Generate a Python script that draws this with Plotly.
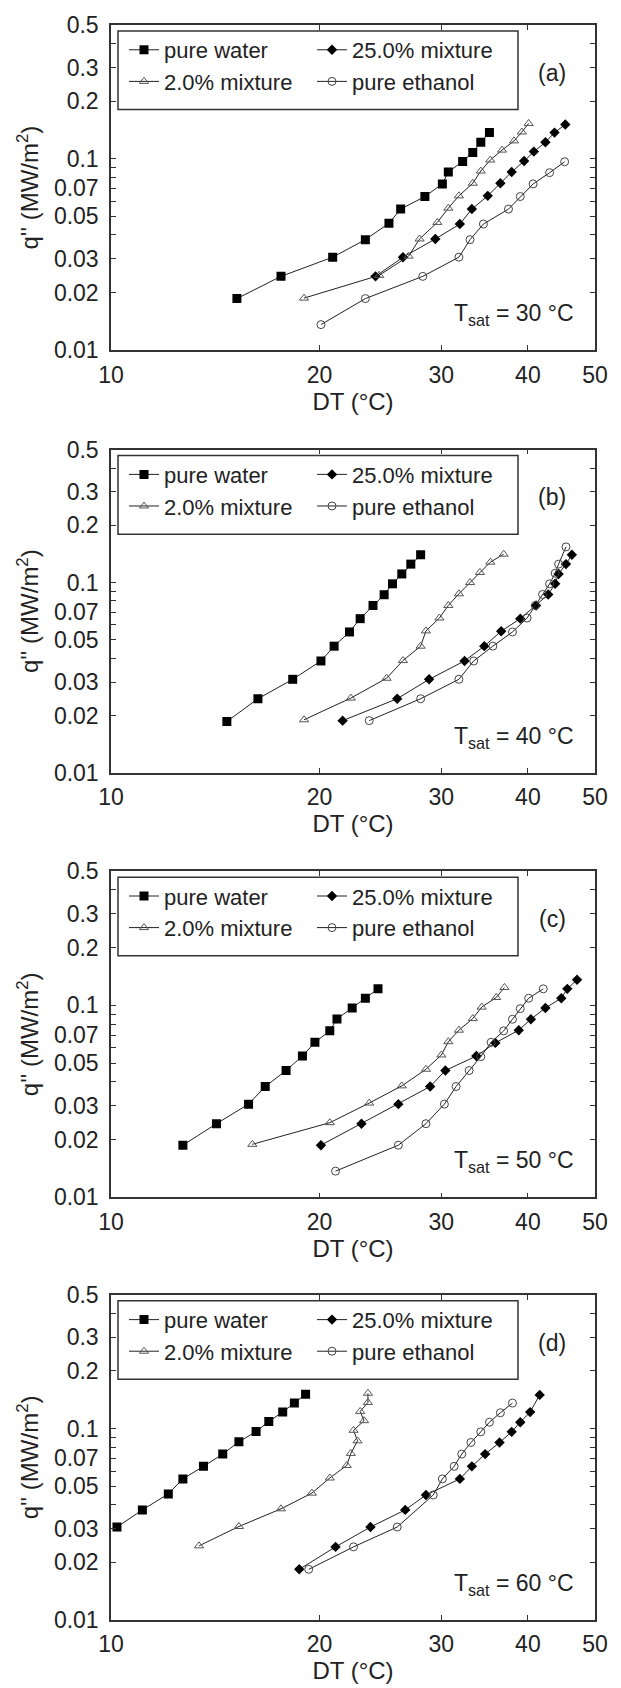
import plotly.graph_objects as go
from plotly.subplots import make_subplots

# ---- data: q'' (MW/m2) against DT (degC), one block per saturation temperature
# Tsat = 30 C (a)
A_WATER_DT = [15.2, 17.6, 20.9, 23.3, 25.2, 26.2, 28.4, 30.1, 30.7, 32.2, 33.3, 34.2, 35.2]
A_WATER_Q = [0.0186, 0.0243, 0.0306, 0.0378, 0.0460, 0.0546, 0.0635, 0.0739, 0.0853, 0.0969, 0.108, 0.122, 0.137]
A_MIX2_DT = [19.0, 24.4, 26.9, 27.9, 29.6, 30.7, 31.8, 33.3, 34.2, 35.3, 36.7, 38.2, 39.2, 40.1]
A_MIX2_Q = [0.0187, 0.0246, 0.0310, 0.0381, 0.0465, 0.0552, 0.0640, 0.0745, 0.0863, 0.0985, 0.111, 0.124, 0.138, 0.153]
A_MIX25_DT = [24.1, 26.4, 29.4, 31.9, 33.2, 35.0, 36.5, 37.9, 39.5, 40.8, 42.4, 43.7, 45.3]
A_MIX25_Q = [0.0243, 0.0306, 0.0381, 0.0456, 0.0546, 0.0640, 0.0745, 0.0853, 0.0973, 0.109, 0.122, 0.137, 0.151]
A_ETH_DT = [20.1, 23.3, 28.2, 31.8, 33.0, 34.5, 37.5, 39.0, 40.7, 43.0, 45.2]
A_ETH_Q = [0.0136, 0.0186, 0.0243, 0.0306, 0.0378, 0.0456, 0.0546, 0.0635, 0.0739, 0.0846, 0.0965]

# Tsat = 40 C (b)
B_WATER_DT = [14.7, 16.3, 18.3, 20.1, 21.0, 22.1, 22.9, 23.9, 24.8, 25.5, 26.3, 27.1, 28.0]
B_WATER_Q = [0.0186, 0.0245, 0.0310, 0.0387, 0.0463, 0.0550, 0.0646, 0.0758, 0.0863, 0.0985, 0.111, 0.125, 0.140]
B_MIX2_DT = [19.0, 22.2, 25.0, 26.4, 28.0, 28.5, 29.8, 30.7, 31.8, 33.0, 34.1, 35.3, 36.9]
B_MIX2_Q = [0.0190, 0.0247, 0.0314, 0.0389, 0.0463, 0.0557, 0.0651, 0.0758, 0.0873, 0.100, 0.113, 0.128, 0.141]
B_MIX25_DT = [21.6, 25.9, 28.8, 32.4, 34.6, 36.6, 39.0, 41.1, 42.8, 43.8, 44.3, 45.4, 46.3]
B_MIX25_Q = [0.0188, 0.0245, 0.0310, 0.0387, 0.0463, 0.0555, 0.0646, 0.0758, 0.0866, 0.0985, 0.111, 0.125, 0.140]
B_ETH_DT = [23.6, 28.0, 31.8, 33.4, 35.6, 38.0, 39.9, 41.0, 42.0, 43.0, 43.8, 44.3, 45.4]
B_ETH_Q = [0.0188, 0.0245, 0.0310, 0.0387, 0.0463, 0.0550, 0.0651, 0.0758, 0.0866, 0.0985, 0.112, 0.125, 0.154]

# Tsat = 50 C (c)
C_WATER_DT = [12.7, 14.2, 15.8, 16.7, 17.9, 18.9, 19.7, 20.7, 21.2, 22.3, 23.3, 24.3]
C_WATER_Q = [0.0187, 0.0242, 0.0306, 0.0378, 0.0458, 0.0545, 0.0642, 0.0737, 0.0850, 0.0970, 0.109, 0.122]
C_MIX2_DT = [16.0, 20.7, 23.6, 26.3, 28.5, 30.0, 30.7, 31.8, 33.3, 34.3, 36.0, 37.0]
C_MIX2_Q = [0.0189, 0.0245, 0.0310, 0.0381, 0.0465, 0.0552, 0.0647, 0.0743, 0.0854, 0.0980, 0.110, 0.124]
C_MIX25_DT = [20.1, 23.0, 26.0, 28.9, 30.4, 33.7, 35.9, 38.8, 40.4, 42.4, 44.7, 45.6, 47.1]
C_MIX25_Q = [0.0187, 0.0242, 0.0306, 0.0378, 0.0458, 0.0545, 0.0638, 0.0743, 0.0847, 0.0970, 0.109, 0.122, 0.136]
C_ETH_DT = [21.1, 26.0, 28.5, 30.3, 31.5, 32.9, 34.2, 35.4, 36.9, 38.0, 39.0, 40.1, 42.1]
C_ETH_Q = [0.0137, 0.0187, 0.0242, 0.0306, 0.0378, 0.0458, 0.0541, 0.0642, 0.0737, 0.0847, 0.0962, 0.109, 0.122]

# Tsat = 60 C (d)
D_WATER_DT = [10.2, 11.1, 12.1, 12.7, 13.6, 14.5, 15.3, 16.2, 16.9, 17.7, 18.4, 19.1]
D_WATER_Q = [0.0306, 0.0376, 0.0456, 0.0546, 0.0635, 0.0736, 0.0853, 0.0965, 0.109, 0.122, 0.136, 0.151]
D_MIX2_DT = [13.4, 15.3, 17.6, 19.5, 20.7, 21.9, 22.2, 22.7, 22.4, 23.2, 22.9, 23.5, 23.5]
D_MIX2_Q = [0.0244, 0.0308, 0.0381, 0.0460, 0.0552, 0.0642, 0.0742, 0.0863, 0.0980, 0.110, 0.123, 0.137, 0.153]
D_MIX25_DT = [18.7, 21.1, 23.7, 26.6, 28.5, 31.9, 33.2, 34.7, 36.4, 37.9, 39.0, 40.3, 41.6]
D_MIX25_Q = [0.0184, 0.0241, 0.0306, 0.0376, 0.0450, 0.0546, 0.0635, 0.0736, 0.0846, 0.0962, 0.108, 0.122, 0.150]
D_ETH_DT = [19.3, 22.4, 25.9, 29.2, 30.1, 31.3, 32.1, 33.1, 34.2, 35.2, 36.5, 38.0]
D_ETH_Q = [0.0184, 0.0241, 0.0306, 0.0450, 0.0546, 0.0635, 0.0736, 0.0846, 0.0962, 0.108, 0.121, 0.136]

PANEL_LABELS = ["(a)", "(b)", "(c)", "(d)"]
TSAT = [30, 40, 50, 60]

Y_TICKS = [0.01, 0.02, 0.03, 0.04, 0.05, 0.06, 0.07, 0.08, 0.09, 0.1, 0.2, 0.3, 0.4, 0.5]
Y_TICK_TEXT = ["0.01", "0.02", "0.03", "", "0.05", "", "0.07", "", "", "0.1", "0.2", "0.3", "", "0.5"]
X_TICKS = [10, 20, 30, 40, 50]

panels = [
    (A_WATER_DT, A_WATER_Q, A_MIX25_DT, A_MIX25_Q, A_MIX2_DT, A_MIX2_Q, A_ETH_DT, A_ETH_Q),
    (B_WATER_DT, B_WATER_Q, B_MIX25_DT, B_MIX25_Q, B_MIX2_DT, B_MIX2_Q, B_ETH_DT, B_ETH_Q),
    (C_WATER_DT, C_WATER_Q, C_MIX25_DT, C_MIX25_Q, C_MIX2_DT, C_MIX2_Q, C_ETH_DT, C_ETH_Q),
    (D_WATER_DT, D_WATER_Q, D_MIX25_DT, D_MIX25_Q, D_MIX2_DT, D_MIX2_Q, D_ETH_DT, D_ETH_Q),
]

# ---- layout geometry (pixels)
W, H = 621, 1688
L, R = 111, 595
PANEL_PX = [(16, 343), (443, 768), (867, 1195), (1293, 1620)]
TOP, BOT = PANEL_PX[0][0], PANEL_PX[-1][1]
plot_h = BOT - TOP
plot_w = R - L

def py(v):
    return (BOT - v) / plot_h

FONT = "Liberation Sans, Arial, sans-serif"
INK = "#222222"

styles = [
    ("pure water", dict(symbol="square", size=9, color="black", line=dict(width=0))),
    ("25.0% mixture", dict(symbol="diamond", size=8, color="black", line=dict(width=0))),
    ("2.0% mixture", dict(symbol="triangle-up-open", size=8, color="#555555", line=dict(width=1))),
    ("pure ethanol", dict(symbol="circle-open", size=8, color="#444444", line=dict(width=1))),
]

fig = make_subplots(rows=4, cols=1)

for i, data in enumerate(panels):
    leg = "legend" if i == 0 else f"legend{i + 1}"
    for k, (name, mk) in enumerate(styles):
        fig.add_trace(go.Scatter(
            x=data[2 * k], y=data[2 * k + 1], name=name, mode="lines+markers",
            line=dict(color=INK, width=1), marker=mk, legend=leg,
        ), row=i + 1, col=1)

    top, bot = PANEL_PX[i]
    fig.update_yaxes(domain=[py(bot), py(top)], row=i + 1, col=1)

    # legend box
    fig.add_shape(type="rect", xref="paper", yref="paper",
                  x0=(118 - L) / plot_w, x1=(518 - L) / plot_w,
                  y0=py(top + 85), y1=py(top + 6),
                  line=dict(color="#333333", width=1.5), fillcolor="white", layer="below")

    fig.update_layout({leg: dict(
        x=(124 - L) / plot_w, xanchor="left", y=py(top + 4), yanchor="top",
        orientation="h", entrywidth=143, entrywidthmode="pixels",
        bgcolor="rgba(0,0,0,0)", borderwidth=0, traceorder="normal",
        font=dict(family=FONT, size=22, color=INK),
    )})

    xd = "x domain" if i == 0 else f"x{i + 1} domain"
    yd = "y domain" if i == 0 else f"y{i + 1} domain"
    fig.add_annotation(text=PANEL_LABELS[i], xref=xd, yref=yd, x=0.945, y=1 - 33 / 327,
                       showarrow=False, font=dict(family=FONT, size=23, color=INK))
    fig.add_annotation(text=f"T<sub>sat</sub> = {TSAT[i]} °C", xref=xd, yref=yd,
                       x=0.96, y=0.11, xanchor="right", yanchor="middle",
                       showarrow=False, font=dict(family=FONT, size=23, color=INK))

fig.update_xaxes(
    type="log", range=[1, 1.69897], tickvals=X_TICKS, ticktext=[str(v) for v in X_TICKS],
    ticks="inside", ticklen=5, tickcolor="#333333", showline=True, linecolor="#333333",
    linewidth=1.5, mirror="ticks", showgrid=False, zeroline=False,
    tickfont=dict(family=FONT, size=23, color=INK), ticklabelstandoff=3,
    title=dict(text="DT (°C)", font=dict(family=FONT, size=24, color=INK), standoff=2),
)
fig.update_yaxes(
    type="log", range=[-2, -0.30103], tickvals=Y_TICKS, ticktext=Y_TICK_TEXT,
    ticks="inside", ticklen=5, tickcolor="#333333", showline=True, linecolor="#333333",
    linewidth=1.5, mirror="ticks", showgrid=False, zeroline=False,
    tickfont=dict(family=FONT, size=23, color=INK), ticklabelstandoff=6,
    title=dict(text="q'' (MW/m<sup>2</sup>)", font=dict(family=FONT, size=24, color=INK), standoff=8),
)

fig.update_layout(
    width=W, height=H, margin=dict(l=L, r=W - R, t=TOP, b=H - BOT),
    plot_bgcolor="white", paper_bgcolor="white", showlegend=True,
)

fig.write_html(
    "out.html",
    config={"displayModeBar": False},
    post_script="document.body.style.margin='0';document.body.style.overflow='hidden';",
)
